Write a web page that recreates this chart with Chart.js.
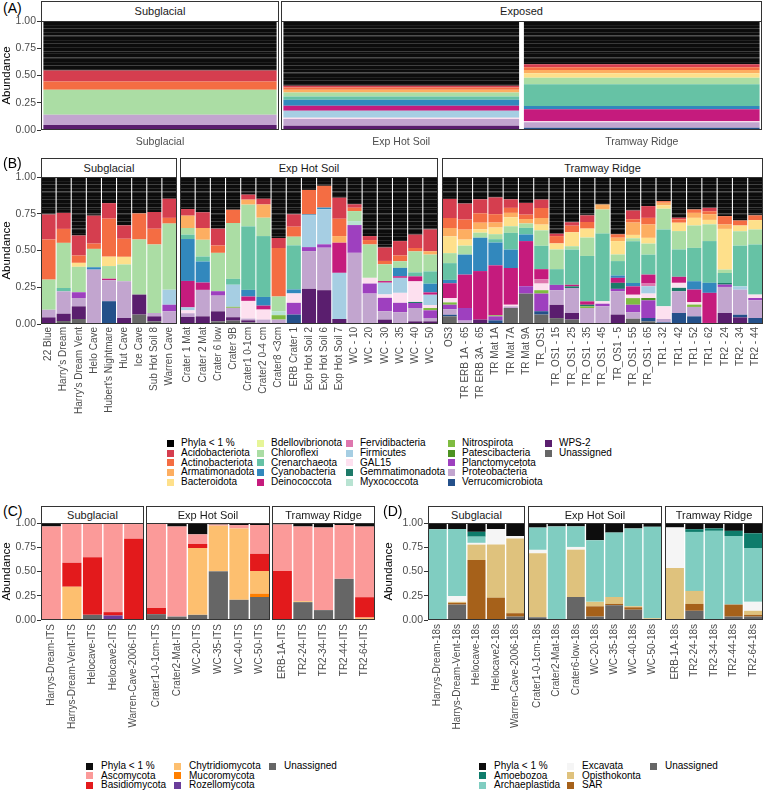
<!DOCTYPE html>
<html>
<head>
<meta charset="utf-8">
<script src="https://cdn.jsdelivr.net/npm/chart.js@4.4.1/dist/chart.umd.min.js"></script>
<style>
html, body { margin: 0; padding: 0; background: #fff; }
#page { position: relative; width: 764px; height: 791px; overflow: hidden; background: #fff;
        font-family: "Liberation Sans", Arial, sans-serif; }
canvas { position: absolute; }
.strip { position: absolute; box-sizing: border-box; border: 1px solid #333; background: #fff;
         color: #1a1a1a; font-size: 11px; text-align: center; }
.tag { position: absolute; font-size: 14px; color: #000; }
.key { position: absolute; width: 7px; height: 7px; }
.lab { position: absolute; font-size: 10px; line-height: 11px; color: #000; white-space: nowrap; }
</style>
</head>
<body>
<div id="page"></div>
<script>
// ---------- panel A : pooled by site ----------
const aGroups = ['Subglacial', 'Exp Hot Soil', 'Tramway Ridge'];
const aOther       = [0.454, 0.595, 0.397];
const aAcido       = [0.100, 0.015, 0.028];
const aActino      = [0.077, 0.020, 0.025];
const aArmati      = [0, 0.025, 0.030];
const aBactero     = [0, 0, 0.040];
const aBdello      = [0, 0, 0];
const aChloro      = [0.230, 0.037, 0.060];
const aCren        = [0, 0.030, 0.200];
const aCyano       = [0, 0.055, 0.030];
const aDeino       = [0, 0.046, 0.110];
const aFerv        = [0, 0, 0];
const aFirm        = [0, 0.065, 0];
const aGAL15       = [0, 0.012, 0.010];
const aGemm        = [0, 0, 0];
const aMyxo        = [0, 0, 0];
const aNitro       = [0, 0, 0];
const aPates       = [0, 0, 0];
const aPlancto     = [0, 0, 0];
const aProteo      = [0.093, 0.060, 0.050];
const aVerruco     = [0, 0, 0.010];
const aWPS2        = [0.046, 0.040, 0];
const aUnassigned  = [0, 0, 0.010];

// ---------- panel B : 16S per sample ----------
const bSubglacial = ['22 Blue', "Harry's Dream", "Harry's Dream Vent", 'Helo Cave', "Hubert's Nightmare",
  'Hut Cave', 'Ice Cave', 'Sub Hot Soil 8', 'Warren Cave'];
const bExpHotSoil = ['Crater 1 Mat', 'Crater 2 Mat', 'Crater 6 low', 'Crater 9B', 'Crater1 0-1cm', 'Crater2 0-4 cm',
  'Crater8 <3cm', 'ERB Crater 1', 'Exp Hot Soil 2', 'Exp Hot Soil 6', 'Exp Hot Soil 7',
  'WC - 10', 'WC - 20', 'WC - 30', 'WC - 35', 'WC - 40', 'WC - 50'];
const bTramway = ['OS3', 'TR ERB 1A - 65', 'TR ERB 3A - 65', 'TR Mat 1A', 'TR Mat 7A', 'TR Mat 9A', 'TR_OS1',
  'TR_OS1 - 15', 'TR_OS1 - 25', 'TR_OS1 - 35', 'TR_OS1 - 45', 'TR_OS1 - 5', 'TR_OS1 - 55', 'TR_OS1 - 65',
  'TR1 - 32', 'TR1 - 42', 'TR1 - 52', 'TR1 - 62', 'TR2 - 24', 'TR2 - 34', 'TR2 - 44'];

// each row: 9 subglacial | 17 exp hot soil | 21 tramway ridge
const bOther = [.255,.244,.398,.263,.178,.329,.248,.238,.148,
  .218,.24,.352,.223,.12,.148,.415,.254,.088,.06,.141,.186,.402,.48,.436,.392,.357,
  .149,.181,.152,.139,.152,.176,.154,.386,.308,.261,.187,.39,.228,.198,.164,.277,.221,.21,.266,.296,.261];
const bAcido = [.17,.109,.136,.19,.105,.091,0,.114,.13,
  .045,.107,.114,0,.034,.039,.068,.084,0,0,.143,.023,.027,.091,.098,.091,.148,
  .13,.109,.095,.114,.058,.08,.057,.016,.023,.045,0,0,.059,.08,0,.011,0,.023,0,0,0];
const bActino = [.273,.095,.05,.036,.259,.123,.177,.107,.039,
  0,0,.05,.09,0,0,.33,.068,.166,.148,.118,.023,.03,.023,.039,.023,0,
  .068,.068,.064,.057,.034,.03,.068,.05,.045,.045,0,.023,.023,.045,.011,.023,.023,.02,.057,.034,.032];
const bArmati = [0,0,0,0,0,0,0,0,0,
  .084,.08,0,0,.034,.09,0,0,0,0,.045,0,0,0,0,0,.023,
  .057,.068,.045,.034,.03,.03,.045,0,0,0,.034,.023,.084,.091,.018,0,.034,.039,.03,0,0];
const bBactero = [0,0,.027,0,.064,.052,0,0,0,
  0,0,0,0,0,0,0,0,0,0,0,0,0,0,0,0,0,
  .114,.041,.023,.045,.061,0,.039,.041,.095,.061,0,.091,.023,.039,.023,.057,.052,.03,.277,.039,.064];
const bBdello = [0,0,0,0,0,0,0,0,0,
  0,0,0,0,0,0,0,0,0,0,0,0,0,0,0,0,0,
  0,0,0,0,0,0,0,0,0,0,0,0,0,0,0,0,0,0,0,0,0];
const bChloro = [.205,.307,.173,.125,.086,.114,.375,.466,.45,
  .045,.114,.261,.38,.148,.125,.1,.059,0,0,0,.068,.227,.114,.045,.143,.114,
  .068,.061,.034,.034,.045,.03,.105,.134,.023,.125,.164,.045,.02,.075,.141,.125,.152,.114,.023,.098,.102];
const bCren = [0,.023,0,0,0,0,0,0,0,
  .03,.034,0,.04,.432,.414,0,.3,0,0,0,0,0,0,0,.027,.084,
  .114,0,0,.023,.114,.045,.159,.107,.239,.309,.461,.098,.284,.136,.523,.186,.227,.284,.068,.277,.341];
const bCyano = [0,0,0,.016,0,0,0,0,0,
  .285,.143,0,0,.045,.059,0,.027,.007,.011,0,0,0,0,.057,0,.059,
  .023,.136,.227,.155,.125,.045,0,0,0,0,0,.016,.023,0,0,0,.057,.068,0,0,0];
const bDeino = [0,0,0,0,.01,0,0,0,0,
  .18,.05,0,0,.03,.027,0,0,0,0,.205,0,0,.011,.011,.034,.016,
  .1,.227,.33,.34,.25,.307,.068,0,.011,.023,0,.034,.057,.061,0,.041,.086,.205,0,0,0];
const bFerv = [0,0,0,0,0,0,0,0,0,
  0,0,0,0,0,0,0,0,0,0,0,0,0,0,0,0,0,
  0,0,0,0,0,0,.03,0,0,0,0,0,0,.018,0,0,0,0,0,0,0];
const bFirm = [0,0,0,0,0,0,0,0,.102,
  .02,0,0,.15,0,0,0,0,.216,.239,.314,0,0,.08,.102,0,.07,
  0,0,0,0,0,0,0,0,0,0,0,0,0,.05,0,0,0,0,0,.023,0];
const bGAL15 = [0,0,0,0,0,0,0,0,0,
  .02,0,0,0,.12,.068,0,.064,0,0,0,0,.039,.023,.068,.14,.02,
  .03,0,0,0,.011,0,.045,0,0,0,.016,0,.023,.03,.086,.034,.016,0,0,0,.023];
const bGemm = [0,0,0,0,0,0,0,0,0,
  0,0,0,0,0,0,0,0,0,0,0,0,0,0,0,.007,0,
  0,0,0,0,0,0,0,0,.011,.011,0,.041,0,0,0,.023,0,0,.011,0,0];
const bMyxo = [0,0,0,0,0,0,0,0,0,
  0,0,0,0,0,0,.027,0,0,0,0,.027,0,0,0,0,0,
  0,0,0,0,0,0,0,0,0,0,0,0,0,0,0,0,0,0,0,0,0];
const bNitro = [0,0,0,0,0,0,0,0,0,
  0,0,0,.007,0,0,.03,0,0,0,0,0,0,0,0,0,.016,
  .016,0,0,.007,0,0,.023,0,0,.011,0,0,.045,0,0,0,.016,0,0,0,0];
const bPates = [0,0,0,0,0,0,0,0,0,
  0,0,0,0,0,0,0,0,0,0,0,0,0,0,0,0,0,
  0,0,0,0,0,0,0,0,0,0,0,0,0,.016,0,0,0,0,0,0,0];
const bPlancto = [0,0,.039,0,0,0,0,0,.045,
  0,0,.03,0,0,0,0,.08,.027,.023,0,.189,.068,.091,.064,.034,.052,
  .03,.086,0,.027,0,.05,.12,.036,0,0,.018,.016,.052,.12,0,0,0,0,.016,0,.016];
const bProteo = [.052,.152,.057,.363,.143,.25,0,.023,.086,
  .025,.18,.107,.064,.012,.03,.03,0,.257,.289,0,.484,.207,.057,.08,.091,.023,
  .038,.023,0,0,.011,0,0,.1,.17,.109,.12,.159,.043,0,.023,.148,.064,.007,.177,.17,.12];
const bVerruco = [0,0,0,0,.155,0,0,0,0,
  0,0,0,0,0,0,0,.064,0,0,0,0,0,0,0,0,0,
  .011,0,0,.025,0,0,.023,0,0,0,0,0,0,.023,.011,.075,.052,0,0,.018,.041];
const bWPS2 = [.045,.05,.086,.007,0,.041,.136,.034,0,
  .048,.052,.068,.023,.014,0,0,0,.239,.23,.034,0,0,.03,0,.018,.018,
  0,0,.03,0,0,0,0,.09,.045,0,0,.064,0,0,0,0,0,0,.075,.045,0];
const bUnassigned = [0,.02,.034,0,0,0,.064,.018,0,
  0,0,.018,.023,.011,0,0,0,0,0,0,0,0,0,0,0,0,
  .052,0,0,0,.109,.207,.064,.04,.03,0,0,0,.036,.018,0,0,0,0,0,0,0];

const phyla = ['Phyla < 1 %', 'Acidobacteriota', 'Actinobacteriota', 'Armatimonadota', 'Bacteroidota',
  'Bdellovibrionota', 'Chloroflexi', 'Crenarchaeota', 'Cyanobacteria', 'Deinococcota', 'Fervidibacteria',
  'Firmicutes', 'GAL15', 'Gemmatimonadota', 'Myxococcota', 'Nitrospirota', 'Patescibacteria',
  'Planctomycetota', 'Proteobacteria', 'Verrucomicrobiota', 'WPS-2', 'Unassigned'];
const phylaColors = ['#000000', '#d53e4f', '#f46d43', '#fdae61', '#fee08b', '#e6f598', '#abdda4', '#66c2a5',
  '#3288bd', '#c51b7d', '#de77ae', '#a6cee3', '#fde0ef', '#1d7a68', '#b8e3d2', '#7fbc41', '#4d9221',
  '#9e40bf', '#c2a5cf', '#24508a', '#5a1e6e', '#666666'];

const aValues = [aOther, aAcido, aActino, aArmati, aBactero, aBdello, aChloro, aCren, aCyano, aDeino, aFerv,
  aFirm, aGAL15, aGemm, aMyxo, aNitro, aPates, aPlancto, aProteo, aVerruco, aWPS2, aUnassigned];
const bValues = [bOther, bAcido, bActino, bArmati, bBactero, bBdello, bChloro, bCren, bCyano, bDeino, bFerv,
  bFirm, bGAL15, bGemm, bMyxo, bNitro, bPates, bPlancto, bProteo, bVerruco, bWPS2, bUnassigned];

// ---------- panel C : ITS ----------
const cSubglacial = ['Harrys-Dream-ITS', 'Harrys-Dream-Vent-ITS', 'Helocave-ITS', 'Helocave2-ITS', 'Warren-Cave-2006-ITS'];
const cExpHotSoil = ['Crater1-0-1cm-ITS', 'Crater2-Mat-ITS', 'WC-20-ITS', 'WC-35-ITS', 'WC-40-ITS', 'WC-50-ITS'];
const cTramway = ['ERB-1A-ITS', 'TR2-24-ITS', 'TR2-34-ITS', 'TR2-44-ITS', 'TR2-64-ITS'];
const cOther      = [.035,.01,.01,.011,.011, .01,.036,.117,.016,.022,.021, .015,.036,.046,.021,.037];
const cAsco       = [.965,.40,.343,.908,.152, .866,.929,.099,.012,.035,.297, .48,.77,.852,.555,.728];
const cBasidio    = [0,.247,.594,.035,.837, .064,0,.042,0,0,.177, .505,0,0,0,.21];
const cChytrid    = [0,.343,0,0,0, 0,0,.689,.47,.735,.233, 0,.01,0,0,.025];
const cMucoro     = [0,0,0,0,0, 0,0,0,0,0,.035, 0,0,0,0,0];
const cRozello    = [0,0,0,.046,0, 0,0,0,0,0,0, 0,0,0,0,0];
const cUnassigned = [0,0,.053,0,0, .06,.035,.053,.502,.208,.237, 0,.184,.102,.424,0];
const fungi = ['Phyla < 1 %', 'Ascomycota', 'Basidiomycota', 'Chytridiomycota', 'Mucoromycota', 'Rozellomycota', 'Unassigned'];
const fungiColors = ['#0d0d0d', '#fb9a99', '#e31a1c', '#fdbf6f', '#ff7f00', '#6a3d9a', '#666666'];
const cValues = [cOther, cAsco, cBasidio, cChytrid, cMucoro, cRozello, cUnassigned];

// ---------- panel D : 18S ----------
const dSubglacial = ['Harrys-Dream-18s', 'Harrys-Dream-Vent-18s', 'Helocave-18s', 'Helocave2-18s', 'Warren-Cave-2006-18s'];
const dExpHotSoil = ['Crater1-0-1cm-18s', 'Crater2-Mat-18s', 'Crater6-low-18s', 'WC-20-18s', 'WC-35-18s', 'WC-40-18s', 'WC-50-18s'];
const dTramway = ['ERB-1A-18s', 'TR2-24-18s', 'TR2-34-18s', 'TR2-44-18s', 'TR2-64-18s'];
const dOther      = [.064,.063,.091,.063,.135, .047,.035,.035,.177,.099,.056,.039, .046,.064,.056,.081,.106];
const dAmoeb      = [0,0,.05,0,0, 0,0,0,0,0,0,0, 0,.028,.025,.053,.152];
const dArchae     = [.936,.69,.064,0,0, .23,.965,.212,.636,.664,.802,.943, 0,.608,.919,.707,.555];
const dExcav      = [0,.06,.018,.159,.025, .035,0,.028,0,0,0,0, .417,0,0,0,.092];
const dOpist      = [0,.01,.159,.548,.77, .66,0,.488,.046,.071,.011,.018, .537,.134,0,0,.042];
const dSAR        = [0,.018,.618,.23,.035, 0,0,0,.106,.014,.025,0, 0,.071,0,.124,.018];
const dUnassigned = [0,.159,0,0,.035, .028,0,.237,.035,.152,.106,0, 0,.095,0,.035,.035];
const euks = ['Phyla < 1 %', 'Amoebozoa', 'Archaeplastida', 'Excavata', 'Opisthokonta', 'SAR', 'Unassigned'];
const euksColors = ['#0d0d0d', '#0e7c6b', '#80cdc1', '#f5f5f5', '#dfc27d', '#a6611a', '#666666'];
const dValues = [dOther, dAmoeb, dArchae, dExcav, dOpist, dSAR, dUnassigned];

// ---------- drawing ----------
const FONT = '"Liberation Sans", Arial, sans-serif';
Chart.defaults.font.family = FONT;
const page = document.getElementById('page');
const PAD = 8;

// the "< 1 %" block is many tiny phyla in the original, so give it a faint striped fill
function stripes() {
  const c = document.createElement('canvas');
  c.width = 4; c.height = 37;
  const g = c.getContext('2d');
  g.fillStyle = '#0c0c0c'; g.fillRect(0, 0, 4, 37);
  [[1, '#3c3c3c'], [3, '#262626'], [7, '#4a4a4a'], [8, '#2a2a2a'], [12, '#1e1e1e'], [15, '#404040'],
   [19, '#2c2c2c'], [22, '#505050'], [23, '#303030'], [27, '#222222'], [30, '#3a3a3a'], [34, '#282828']]
    .forEach(([y, col]) => { g.fillStyle = col; g.fillRect(0, y, 4, 1); });
  return g.createPattern(c, 'repeat');
}
const striped = stripes();

const frame = {
  id: 'frame',
  afterDatasetsDraw(chart) {
    const a = chart.chartArea, g = chart.ctx;
    g.save();
    g.strokeStyle = '#333'; g.lineWidth = 1;
    g.strokeRect(a.left + 0.5, a.top + 0.5, a.right - a.left - 1, a.bottom - a.top - 1);
    g.restore();
  }
};

function stack(names, colors, values, from, to, topFill) {
  const sets = [];
  for (let i = names.length - 1; i >= 0; i--) {
    sets.push({ label: names[i], data: values[i].slice(from, to), backgroundColor: i === 0 ? topFill : colors[i] });
  }
  return sets;
}

function facet(o) {
  const cv = document.createElement('canvas');
  const w = o.w + o.yw, h = PAD + o.h + o.xh;
  cv.width = w; cv.height = h;
  cv.style.left = (o.x - o.yw) + 'px';
  cv.style.top = (o.top - PAD) + 'px';
  cv.style.width = w + 'px';
  cv.style.height = h + 'px';
  page.appendChild(cv);
  new Chart(cv, {
    type: 'bar',
    data: { labels: o.labels, datasets: o.sets },
    plugins: [frame],
    options: {
      responsive: false,
      animation: false,
      devicePixelRatio: 1,
      layout: { padding: { top: PAD, left: 0, right: 0, bottom: 0 } },
      plugins: { legend: { display: false }, tooltip: { enabled: false } },
      datasets: { bar: { barPercentage: o.bp, categoryPercentage: 1, borderWidth: 0 } },
      scales: {
        x: {
          stacked: true,
          grid: { display: false, drawTicks: false },
          border: { display: false },
          ticks: { autoSkip: false, minRotation: o.rot, maxRotation: o.rot, padding: o.tp,
                   color: '#4d4d4d', font: { size: o.fs } },
          afterFit(s) { s.height = o.xh; s.paddingLeft = 0; s.paddingRight = 0; }
        },
        y: {
          stacked: true, min: 0, max: 1,
          display: o.yw > 0,
          grid: { drawOnChartArea: false, drawTicks: true, tickLength: 4, color: '#333' },
          border: { display: false },
          ticks: { stepSize: 0.25, padding: 1, color: '#4d4d4d', font: { size: 10.5 },
                   callback: v => v.toFixed(2) },
          title: { display: true, text: 'Abundance', color: '#000', font: { size: 11.5 }, padding: 0 },
          afterFit(s) { s.width = o.yw; s.paddingTop = 0; s.paddingBottom = 0; }
        }
      }
    }
  });
}

function strip(x, top, w, h, text) {
  const d = document.createElement('div');
  d.className = 'strip';
  d.style.left = x + 'px'; d.style.top = top + 'px';
  d.style.width = w + 'px'; d.style.height = h + 'px';
  d.style.lineHeight = (h - 2) + 'px';
  d.textContent = text;
  page.appendChild(d);
}

function tag(x, y, text) {
  const d = document.createElement('div');
  d.className = 'tag';
  d.style.left = x + 'px'; d.style.top = y + 'px';
  d.textContent = text;
  page.appendChild(d);
}

function legend(names, colors, cols, gap, y0, step, rows) {
  names.forEach((n, i) => {
    const c = Math.floor(i / rows), y = y0 + (i % rows) * step;
    const k = document.createElement('div');
    k.className = 'key';
    k.style.left = cols[c] + 'px'; k.style.top = (y - 3.5) + 'px';
    k.style.background = colors[i];
    page.appendChild(k);
    const t = document.createElement('div');
    t.className = 'lab';
    t.style.left = (cols[c] + gap) + 'px'; t.style.top = (y - 6) + 'px';
    t.textContent = n;
    page.appendChild(t);
  });
}

// panel A
tag(3, 0, '(A)');
facet({ x: 41, w: 238, top: 21, h: 109, yw: 41, xh: 26, rot: 0, fs: 10.5, tp: 6, bp: 0.98,
        labels: aGroups.slice(0, 1), sets: stack(phyla, phylaColors, aValues, 0, 1, striped) });
facet({ x: 281, w: 481, top: 21, h: 109, yw: 0, xh: 26, rot: 0, fs: 10.5, tp: 6, bp: 0.98,
        labels: aGroups.slice(1), sets: stack(phyla, phylaColors, aValues, 1, 3, striped) });
strip(41, 1, 238, 21, 'Subglacial');
strip(281, 1, 481, 21, 'Exposed');

// panel B
tag(3, 155, '(B)');
const nS = bSubglacial.length, nE = bExpHotSoil.length, nT = bTramway.length;
facet({ x: 41, w: 136, top: 177, h: 147, yw: 41, xh: 100, rot: 90, fs: 10, tp: 3, bp: 0.93,
        labels: bSubglacial, sets: stack(phyla, phylaColors, bValues, 0, nS, striped) });
facet({ x: 180, w: 258, top: 177, h: 147, yw: 0, xh: 100, rot: 90, fs: 10, tp: 3, bp: 0.93,
        labels: bExpHotSoil, sets: stack(phyla, phylaColors, bValues, nS, nS + nE, striped) });
facet({ x: 442, w: 321, top: 177, h: 147, yw: 0, xh: 100, rot: 90, fs: 10, tp: 3, bp: 0.93,
        labels: bTramway, sets: stack(phyla, phylaColors, bValues, nS + nE, nS + nE + nT, striped) });
strip(41, 158, 136, 20, 'Subglacial');
strip(180, 158, 258, 20, 'Exp Hot Soil');
strip(442, 158, 321, 20, 'Tramway Ridge');
legend(phyla, phylaColors, [167, 257, 346, 448, 545], 14, 443.3, 9.7, 5);

// panel C
tag(3, 503, '(C)');
const cS = cSubglacial.length, cE = cExpHotSoil.length, cT = cTramway.length;
facet({ x: 41, w: 103, top: 523, h: 97, yw: 41, xh: 120, rot: 90, fs: 10, tp: 4, bp: 0.93,
        labels: cSubglacial, sets: stack(fungi, fungiColors, cValues, 0, cS, fungiColors[0]) });
facet({ x: 146, w: 124, top: 523, h: 97, yw: 0, xh: 120, rot: 90, fs: 10, tp: 4, bp: 0.93,
        labels: cExpHotSoil, sets: stack(fungi, fungiColors, cValues, cS, cS + cE, fungiColors[0]) });
facet({ x: 272, w: 103, top: 523, h: 97, yw: 0, xh: 120, rot: 90, fs: 10, tp: 4, bp: 0.93,
        labels: cTramway, sets: stack(fungi, fungiColors, cValues, cS + cE, cS + cE + cT, fungiColors[0]) });
strip(41, 506, 103, 18, 'Subglacial');
strip(146, 506, 124, 18, 'Exp Hot Soil');
strip(272, 506, 103, 18, 'Tramway Ridge');
legend(fungi, fungiColors, [86, 174, 269], 15, 766, 9.6, 3);

// panel D
tag(383, 503, '(D)');
const dS = dSubglacial.length, dE = dExpHotSoil.length, dT = dTramway.length;
facet({ x: 428, w: 97, top: 523, h: 97, yw: 46, xh: 120, rot: 90, fs: 10, tp: 4, bp: 0.93,
        labels: dSubglacial, sets: stack(euks, euksColors, dValues, 0, dS, euksColors[0]) });
facet({ x: 528, w: 134, top: 523, h: 97, yw: 0, xh: 120, rot: 90, fs: 10, tp: 4, bp: 0.93,
        labels: dExpHotSoil, sets: stack(euks, euksColors, dValues, dS, dS + dE, euksColors[0]) });
facet({ x: 665, w: 98, top: 523, h: 97, yw: 0, xh: 120, rot: 90, fs: 10, tp: 4, bp: 0.93,
        labels: dTramway, sets: stack(euks, euksColors, dValues, dS + dE, dS + dE + dT, euksColors[0]) });
strip(428, 506, 97, 18, 'Subglacial');
strip(528, 506, 134, 18, 'Exp Hot Soil');
strip(665, 506, 98, 18, 'Tramway Ridge');
legend(euks, euksColors, [479, 567, 650], 15, 766, 9.6, 3);
</script>
</body>
</html>
